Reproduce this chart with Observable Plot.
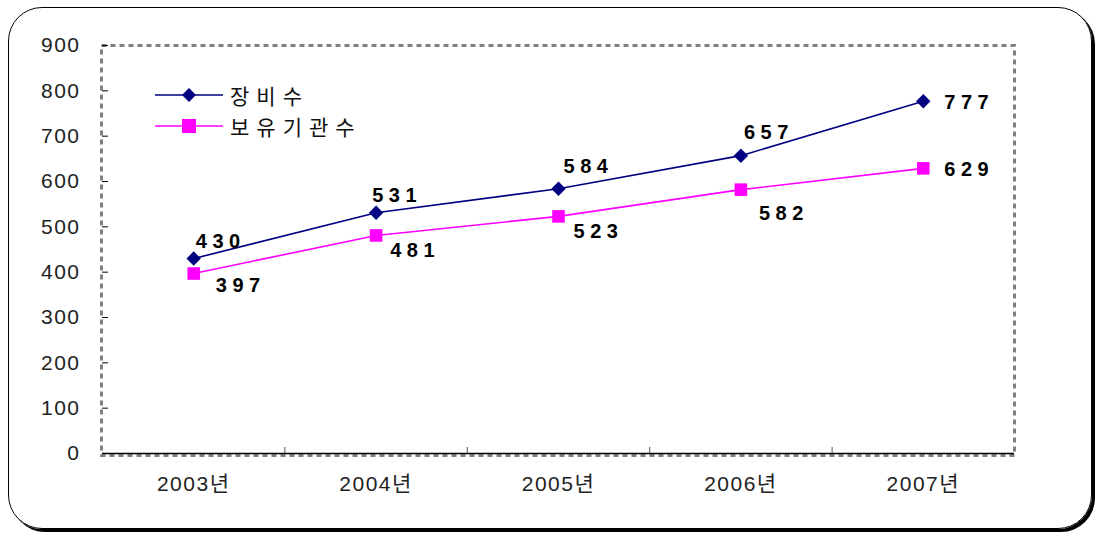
<!DOCTYPE html>
<html><head><meta charset="utf-8">
<script src="https://cdn.jsdelivr.net/npm/d3@7"></script>
<script src="https://cdn.jsdelivr.net/npm/@observablehq/plot@0.6"></script>
<style>
body{margin:0;background:#fff;}
#wrap{position:relative;width:1097px;height:535px;overflow:hidden;font-family:"Liberation Sans",Arial,"Noto Sans CJK KR",sans-serif;}
#box{position:absolute;left:8px;top:7px;width:1082px;height:520px;border:1.5px solid #000;border-radius:34px;box-shadow:3px 3px 0 #000;}
#chart{position:absolute;left:0;top:0;}
#legend{position:absolute;left:155px;top:79px;font-size:21px;color:#111;}
#legend .row{display:flex;align-items:center;height:31px;}
#legend span{margin-left:7px;letter-spacing:7px;font-family:"Noto Sans CJK KR",sans-serif;}
g[aria-label="y-axis tick label"] text, g[aria-label="x-axis tick label"] text{letter-spacing:1.5px;font-size:21px !important;}
g.vlabel text{letter-spacing:5.5px;}
</style></head>
<body>
<div id="wrap"><div id="box"></div><div id="chart"></div><div id="legend"></div></div>
<script>
const years = [2003, 2004, 2005, 2006, 2007];
const equipment = [430, 531, 584, 657, 777];      // 장비수
const institutions = [397, 481, 523, 582, 629];   // 보유기관수
const yTicks = [0, 100, 200, 300, 400, 500, 600, 700, 800, 900];
const seriesNames = ["장비수", "보유기관수"];
const seriesColors = ["#000080", "#FF00FF"];

const eq = years.map((y, i) => ({year: y, value: equipment[i], i}));
const ins = years.map((y, i) => ({year: y, value: institutions[i], i}));
const bounds = years.slice(0, -1).map(y => y + 0.5);

// label offsets (styling)
const eqOff = [[27,-17,"middle"],[21,-17,"middle"],[30,-22,"middle"],[28,-23,"middle"],[21,1,"start"]];
const insOff = [[47,12,"middle"],[39,15,"middle"],[40,15,"middle"],[43,24,"middle"],[21,1,"start"]];
function labels(data, off) {
  return data.map((d, k) => Plot.text([d], {x: "year", y: "value", text: d => String(d.value),
    dx: off[k][0], dy: off[k][1], textAnchor: off[k][2], fontSize: 20, fontWeight: "bold",
    fill: "#000", className: "vlabel"}));
}

const chart = Plot.plot({
  width: 1097, height: 535,
  marginLeft: 102, marginRight: 83, marginTop: 45, marginBottom: 82,
  style: {background: "transparent", fontFamily: "'Liberation Sans', Arial, 'Noto Sans CJK KR', sans-serif"},
  x: {type: "linear", domain: [2002.5, 2007.5], label: null},
  y: {domain: [0, 900], label: null},
  marks: [
    Plot.frame({stroke: "#808080", strokeDasharray: "5,4", strokeWidth: 3, insetBottom: -2, insetLeft: -1}),
    Plot.ruleY([0], {stroke: "#000", strokeWidth: 1.5}),
    Plot.tickY(yTicks, {y: d => d, insetRight: 906, stroke: "#000"}),
    Plot.tickX(bounds, {x: d => d, insetTop: 402, stroke: "#555"}),
    Plot.axisY(yTicks, {tickSize: 0, tickPadding: 22, fontSize: 21, fill: "#222", label: null}),
    Plot.axisX(years, {tickSize: 0, tickPadding: 23, fontSize: 21, fill: "#222", tickFormat: d => d + "년", label: null}),
    Plot.line(eq, {x: "year", y: "value", stroke: seriesColors[0], strokeWidth: 1.6}),
    Plot.line(ins, {x: "year", y: "value", stroke: seriesColors[1], strokeWidth: 1.6}),
    Plot.dot(eq, {x: "year", y: "value", symbol: "diamond2", r: 6.5, fill: seriesColors[0], stroke: "none"}),
    Plot.dot(ins, {x: "year", y: "value", symbol: "square2", r: 8, fill: seriesColors[1], stroke: "none"}),
    ...labels(eq, eqOff),
    ...labels(ins, insOff)
  ]
});
document.getElementById("chart").appendChild(chart);

const legend = document.getElementById("legend");
const shapes = [
  c => `<polygon points="34,3 41,10 34,17 27,10" fill="${c}"/>`,
  c => `<rect x="27" y="3" width="14" height="14" fill="${c}"/>`
];
seriesNames.forEach((name, i) => {
  const row = document.createElement("div");
  row.className = "row";
  row.innerHTML = `<svg width="68" height="20"><line x1="0" x2="68" y1="10" y2="10" stroke="${seriesColors[i]}" stroke-width="1.6"/>${shapes[i](seriesColors[i])}</svg><span>${name}</span>`;
  legend.appendChild(row);
});
</script>
</body></html>
